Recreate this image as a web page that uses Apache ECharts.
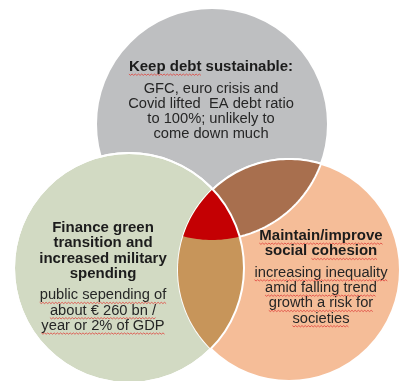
<!DOCTYPE html>
<html>
<head>
<meta charset="utf-8">
<script src="https://cdn.jsdelivr.net/npm/echarts@6/dist/echarts.min.js"></script>
<style>
  html, body { margin: 0; padding: 0; background: #ffffff; }
  #chart { width: 402px; height: 381px; }
</style>
</head>
<body>
<div id="chart"></div>
<script>
// ---- Sets of the diagram ----
const setTitles = [
  ['Keep debt sustainable:'],
  ['Finance green', 'transition and', 'increased military', 'spending'],
  ['Maintain/improve', 'social cohesion']
];
const setNotes = [
  ['GFC, euro crisis and', 'Covid lifted  EA debt ratio', 'to 100%; unlikely to', 'come down much'],
  ['public sepending of', 'about \u20ac 260 bn /', 'year or 2% of GDP'],
  ['increasing inequality', 'amid falling trend', 'growth a risk for', 'societies']
];
// circle geometry in diagram units (x to the right, y downward)
const circleX = [212, 129, 289];
const circleY = [124, 268, 270];
const circleR = [116, 115, 111];
// overlapping regions, as lists of set indices
const overlaps = [[0, 2], [1, 2], [0, 1, 2]];

// ---- Styling ----
const circleFill = ['#bebfc1', '#d2dac3', '#f5bd98'];
const overlapFill = ['#a86f4e', '#c7955a', '#c40003'];
const overlapStroke = [true, false, false];
const labelAnchor = [[211, 67], [103, 228], [321, 236]];
const lineStep = 15.3;
const blockGap = 21.5;
const titleFont = { size: 15, weight: 'bold', color: '#1c1c1c' };
const noteFont = { size: 14.7, weight: 'normal', color: '#262626' };
const fontFamily = '"Liberation Sans", Arial, sans-serif';
// proofing marks: [line text, flagged part]
const proofMarks = [
  ['Keep debt sustainable:', 'Keep debt'],
  ['Maintain/improve', 'Maintain/improve'],
  ['social cohesion', 'cohesion'],
  ['increasing inequality', 'increasing inequality'],
  ['amid falling trend', 'amid falling trend'],
  ['growth a risk for', 'growth a risk for'],
  ['societies', 'societies'],
  ['public sepending of', 'public sepending of'],
  ['about \u20ac 260 bn /', 'about \u20ac 260 bn /'],
  ['year or 2% of GDP', 'year or 2% of GDP']
];

const measureCtx = document.createElement('canvas').getContext('2d');
function textWidth(str, f) {
  measureCtx.font = f.weight + ' ' + f.size + 'px ' + fontFamily;
  return measureCtx.measureText(str).width;
}

// polygon approximation of a circle in pixel space
function circlePoly(cx, cy, r) {
  const pts = [];
  const n = 240;
  for (let k = 0; k < n; k++) {
    const t = (k / n) * Math.PI * 2;
    pts.push([cx + r * Math.cos(t), cy + r * Math.sin(t)]);
  }
  return pts;
}
function segCross(p, q, a, b) {
  const den = (p[0] - q[0]) * (a[1] - b[1]) - (p[1] - q[1]) * (a[0] - b[0]);
  const t = ((p[0] - a[0]) * (a[1] - b[1]) - (p[1] - a[1]) * (a[0] - b[0])) / den;
  return [p[0] + t * (q[0] - p[0]), p[1] + t * (q[1] - p[1])];
}
// Sutherland-Hodgman clipping against a convex polygon
function clipPoly(subject, clip) {
  let out = subject;
  for (let i = 0; i < clip.length && out.length; i++) {
    const a = clip[i], b = clip[(i + 1) % clip.length];
    const inside = p => (b[0] - a[0]) * (p[1] - a[1]) - (b[1] - a[1]) * (p[0] - a[0]) >= 0;
    const inp = out;
    out = [];
    for (let j = 0; j < inp.length; j++) {
      const cur = inp[j], prev = inp[(j + inp.length - 1) % inp.length];
      const ci = inside(cur), pi = inside(prev);
      if (ci) {
        if (!pi) out.push(segCross(prev, cur, a, b));
        out.push(cur);
      } else if (pi) {
        out.push(segCross(prev, cur, a, b));
      }
    }
  }
  return out;
}
function pixelCircle(api, i) {
  const c = api.coord([circleX[i], circleY[i]]);
  const r = api.size([circleR[i], 0])[0];
  return { cx: c[0], cy: c[1], r: r };
}

const chart = echarts.init(document.getElementById('chart'), null, { renderer: 'canvas' });

const circleData = circleX.map((x, i) => [x, circleY[i], circleR[i], i]);

chart.setOption({
  animation: false,
  backgroundColor: '#ffffff',
  grid: { left: 0, right: 0, top: 0, bottom: 0 },
  xAxis: { type: 'value', min: 0, max: 402, show: false },
  yAxis: { type: 'value', min: 0, max: 381, inverse: true, show: false },
  series: [
    {
      // the three sets
      type: 'custom',
      coordinateSystem: 'cartesian2d',
      data: circleData,
      z: 1,
      renderItem: function (params, api) {
        const i = api.value(3);
        const c = pixelCircle(api, i);
        return {
          type: 'circle',
          shape: c,
          style: { fill: circleFill[i], stroke: '#ffffff', lineWidth: 2 }
        };
      }
    },
    {
      // overlapping regions
      type: 'custom',
      coordinateSystem: 'cartesian2d',
      data: overlaps.map((o, k) => [circleX[o[0]], circleY[o[0]], k]),
      z: 2,
      renderItem: function (params, api) {
        const k = api.value(2);
        const ids = overlaps[k];
        let poly = null;
        ids.forEach(i => {
          const c = pixelCircle(api, i);
          const p = circlePoly(c.cx, c.cy, c.r);
          poly = poly ? clipPoly(poly, p) : p;
        });
        return {
          type: 'polygon',
          shape: { points: poly },
          style: overlapStroke[k]
            ? { fill: overlapFill[k], stroke: '#ffffff', lineWidth: 2 }
            : { fill: overlapFill[k] }
        };
      }
    },
    {
      // edge of the green transition set, drawn above the overlaps
      type: 'custom',
      coordinateSystem: 'cartesian2d',
      data: [circleData[1]],
      z: 3,
      renderItem: function (params, api) {
        const c = pixelCircle(api, api.value(3));
        return {
          type: 'circle',
          shape: c,
          style: { fill: null, stroke: '#ffffff', lineWidth: 2 }
        };
      }
    },
    {
      // set labels
      type: 'custom',
      coordinateSystem: 'cartesian2d',
      data: labelAnchor.map((a, i) => [a[0], a[1], i]),
      z: 4,
      renderItem: function (params, api) {
        const i = api.value(2);
        const p = api.coord([api.value(0), api.value(1)]);
        const children = [];
        const lines = [];
        setTitles[i].forEach((t, k) => lines.push({ text: t, font: titleFont, y: p[1] + k * lineStep }));
        const noteTop = p[1] + (setTitles[i].length - 1) * lineStep + blockGap;
        setNotes[i].forEach((t, k) => lines.push({ text: t, font: noteFont, y: noteTop + k * lineStep }));
        lines.forEach(l => {
          children.push({
            type: 'text',
            style: {
              text: l.text,
              x: p[0],
              y: l.y,
              align: 'center',
              verticalAlign: 'middle',
              fontSize: l.font.size,
              fontWeight: l.font.weight,
              fontFamily: fontFamily,
              fill: l.font.color
            }
          });
          const mark = proofMarks.find(m => m[0] === l.text);
          if (mark) {
            const full = textWidth(l.text, l.font);
            const start = l.text.indexOf(mark[1]);
            const x0 = p[0] - full / 2 + textWidth(l.text.slice(0, start), l.font);
            const x1 = x0 + textWidth(mark[1], l.font);
            const base = l.y + l.font.size * 0.47;
            const pts = [];
            let up = true;
            for (let x = x0; x <= x1; x += 1.6) {
              pts.push([x, base + (up ? 0 : 1.3)]);
              up = !up;
            }
            children.push({
              type: 'polyline',
              shape: { points: pts },
              style: { stroke: '#e0413b', lineWidth: 0.8, fill: null }
            });
          }
        });
        return { type: 'group', children: children };
      }
    }
  ]
});
</script>
</body>
</html>
